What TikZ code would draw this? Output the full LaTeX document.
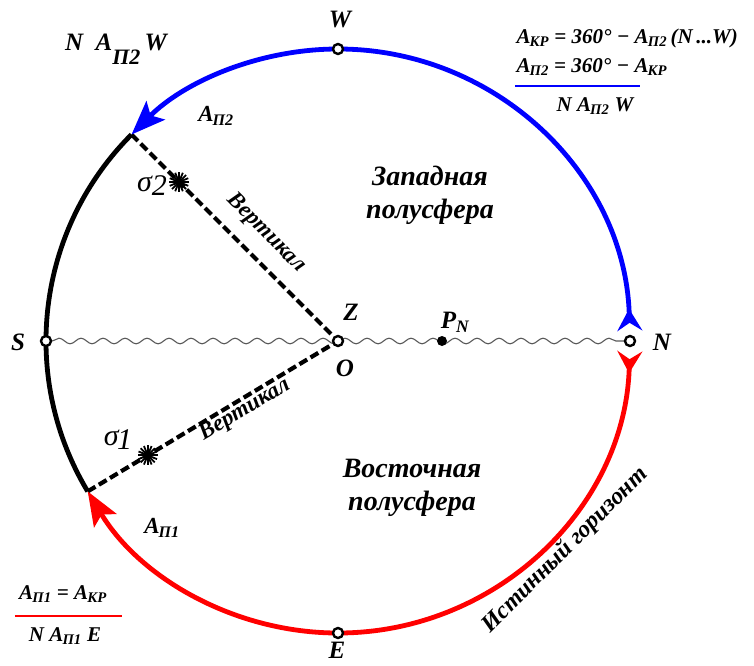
\documentclass[tikz,border=0pt]{standalone}
\usepackage{fontspec}
\setmainfont{Liberation Serif}
\usetikzlibrary{arrows.meta,backgrounds,calc,decorations.pathmorphing,positioning}
\tikzset{
  pnt/.style={circle, draw=black, fill=white, line width=2.4pt, inner sep=0pt, minimum size=10pt},
  vert/.style={line width=4.2pt, dash pattern=on 9pt off 4pt},
  azim/.style={line width=4.8pt, {Stealth[reversed,length=22pt,width=25pt,inset=8pt]}-{Stealth[length=34pt,width=26pt,inset=7pt]}},
  lbl/.style={font=\fontsize{25}{28}\selectfont\bfseries\itshape},
  hemi/.style={font=\fontsize{28}{33}\selectfont\bfseries\itshape, align=center},
  rot/.style={font=\fontsize{23}{26}\selectfont\bfseries\itshape},
  frm/.style={font=\fontsize{21}{24}\selectfont\bfseries\itshape},
}
\newcommand{\Ai}[1]{A\kern-0.04em\textsubscript{#1}}
\newcommand{\starmark}[1]{%
  \foreach \a in {0,22.5,...,157.5}{\draw[line width=1.8pt] (#1) ++(\a:10pt) -- ++(\a+180:20pt);}}

\begin{document}
\begin{tikzpicture}[x=1pt, y=1pt]
\useasboundingbox (-338,-324) rectangle (416,341);
% points of the horizon
\node[pnt] (O) at (0,0) {};
\node[pnt] (W) at (90:292) {};
\node[pnt] (S) at (180:292) {};
\node[pnt] (N) at (0:292) {};
\node[pnt] (E) at (270:292) {};
\coordinate (A2) at (135:292);
\coordinate (A1) at (211:292);
\coordinate (Nb) at (2:292);
\coordinate (Nr) at (-2:292);
\fill (104,0) circle (5pt) coordinate (PN);
% labels of the points
\node[lbl] (labW) at (2,321) {W};
\node[lbl] (labS) at (-320,-1) {S};
\node[lbl] (labN) at (324,-1) {N};
\node[lbl] (labE) at (-1,-309) {E};
\node[lbl] (labZ) at (13,29) {Z};
\node[lbl] (labO) at (7,-27) {O};
\node[lbl] (labP) at (117,19) {P\textsubscript{N}};
% hemispheres
\node[hemi] (west) at (92,146) {Западная\\полусфера};
\node[hemi] (east) at (74,-147) {Восточная\\полусфера};
\node[rot, font=\fontsize{24}{27}\selectfont\bfseries\itshape, rotate=45] (hor) at (227,-209) {Истинный горизонт};
% verticals of the stars
\coordinate (st2) at ($(A2)!0.23!(O)$);
\coordinate (st1) at ($(A1)!0.24!(O)$);
\node[rot, rotate=-45] (v2) at (-72,108) {Вертикал};
\node[rot, rotate=31] (v1) at (-93,-69) {Вертикал};
\node[font=\fontsize{30}{32}\selectfont\itshape] (sig2) at (-186,155) {σ\raisebox{-0.3ex}{2}};
\node[font=\fontsize{30}{32}\selectfont\itshape] (sig1) at (-220,-99) {σ\raisebox{-0.3ex}{\kern-0.05em 1}};
\node[frm, font=\fontsize{23}{26}\selectfont\bfseries\itshape] (a2) at (-122,225) {\Ai{П2}};
\node[frm, font=\fontsize{23}{26}\selectfont\bfseries\itshape] (a1) at (-176,-187) {\Ai{П1}};
\node[lbl] (nw) at (-222,292) {N\ \ A\raisebox{-1.2ex}{\fontsize{22}{24}\selectfont П2}\,W};
% formulas, top right
\node[frm, anchor=west] (f1) at (175,303) {\Ai{КР} = 360° − \Ai{П2}\,(\textit{N}\,...\textit{W})};
\node[frm, anchor=west] (f2) at (175,274) {\Ai{П2} = 360° − \Ai{КР}};
\draw[blue, line width=2.6pt] (177,255) -- (302,255);
\node[frm] (f3) at (257,235) {N \Ai{П2} W};
% formulas, bottom left
\node[frm] (g1) at (-275,-253) {\Ai{П1} = \Ai{КР}};
\draw[red, line width=2.6pt] (-323,-275) -- (-216,-275);
\node[frm] (g2) at (-273,-295) {N \Ai{П1} E};
\begin{scope}[on background layer]
% true horizon line
\draw[black!65, line width=1.1pt, decorate, decoration={snake, amplitude=2.8pt, segment length=22pt}] (S) -- (N);
\draw[vert] (A2) -- (O);
\draw[vert] (A1) -- (O);
\starmark{st2}
\starmark{st1}
% azimuth arcs
\draw[azim, blue] (Nb) arc[start angle=2, end angle=135, radius=292];
\draw[azim, red] (Nr) arc[start angle=-2, end angle=-149, radius=292];
\draw[line width=4.8pt] (A2) arc[start angle=135, end angle=211, radius=292];
\end{scope}
\end{tikzpicture}
\end{document}
